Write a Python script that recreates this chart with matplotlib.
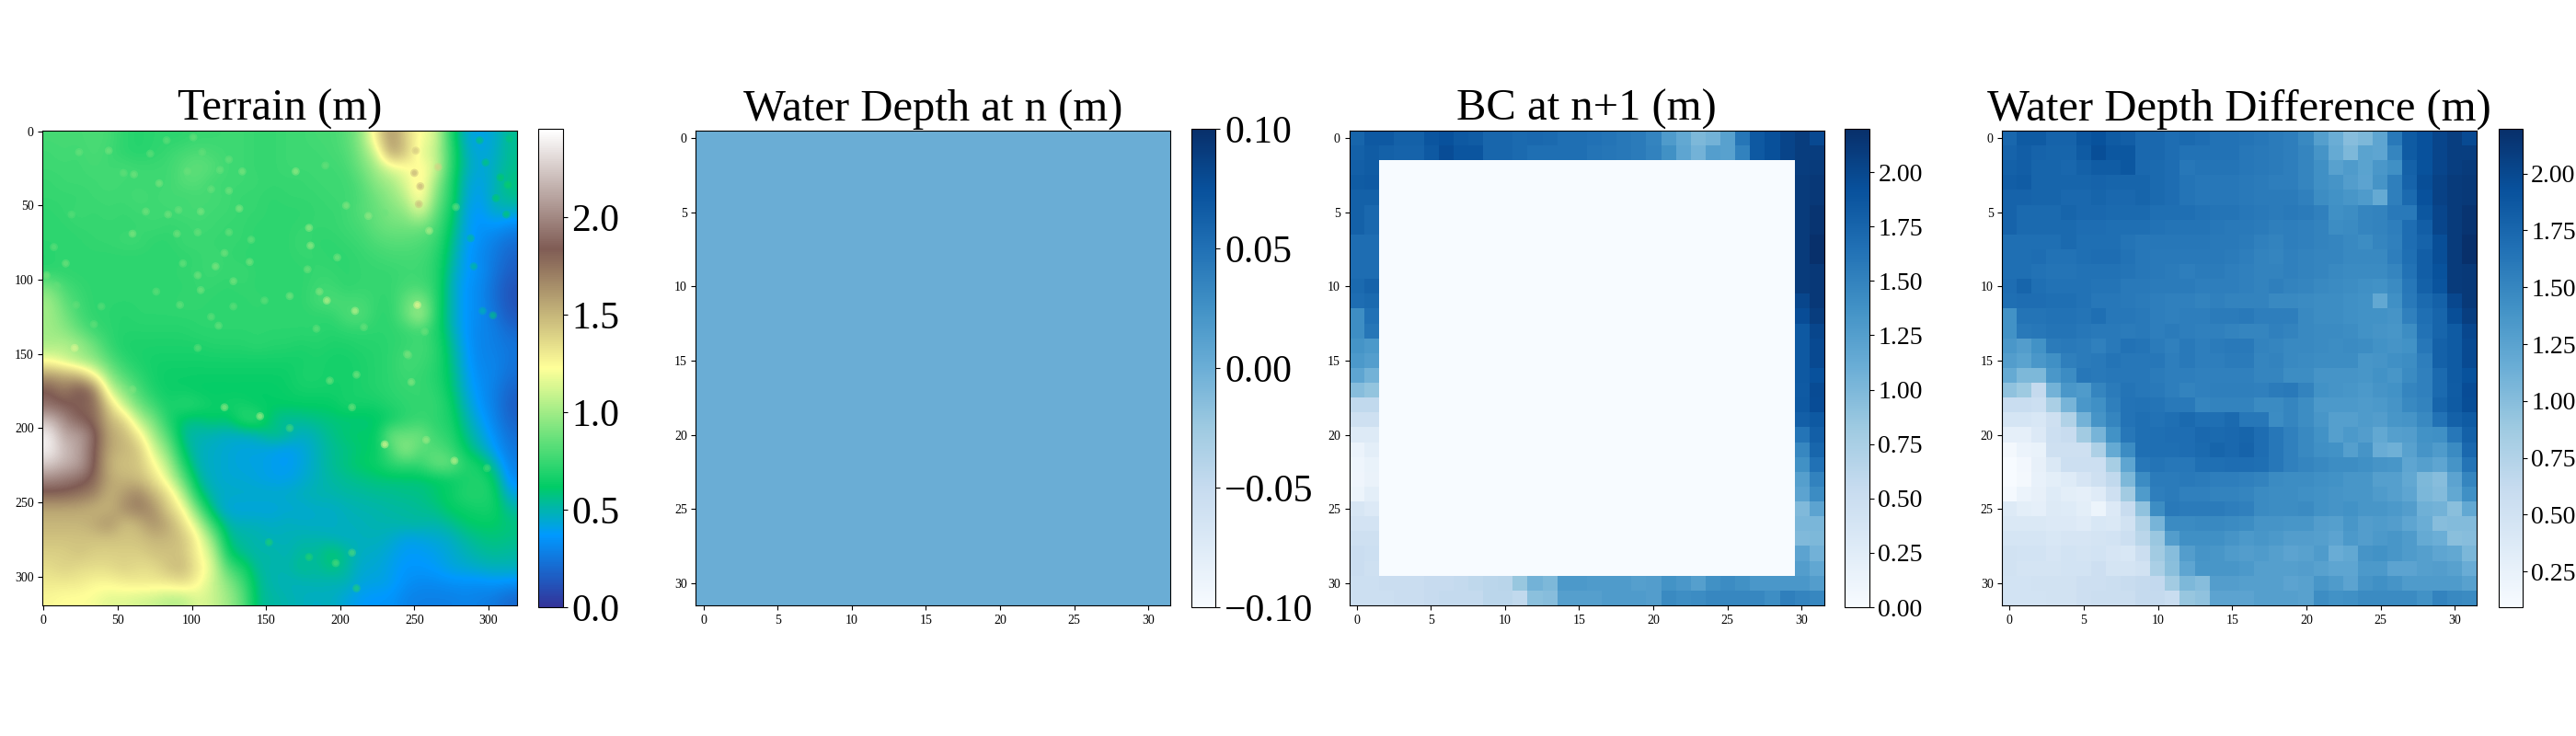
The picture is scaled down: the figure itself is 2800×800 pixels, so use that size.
import numpy as np
import matplotlib
matplotlib.use("Agg")
import matplotlib.pyplot as plt

plt.rcParams['font.family'] = ['Liberation Serif', 'DejaVu Serif']

W, H = 2800, 800

titles = ["Terrain (m)", "Water Depth at n (m)", "BC at n+1 (m)", "Water Depth Difference (m)"]

# terrain elevation on a 10 m grid
terrain = [
    [.78,.78,.78,.80,.78,.72,.70,.72,.72,.72,.75,.75,.76,.76,.74,.74,.76,.76,.78,.78,.82,.95,1.3,1.65,1.4,1.2,1.15,.70,.45,.40,.45,.55],
    [.76,.78,.76,.80,.76,.72,.70,.72,.75,.78,.80,.78,.76,.76,.74,.74,.76,.76,.76,.78,.80,.92,1.1,1.6,1.45,1.15,1.1,.75,.48,.42,.45,.55],
    [.76,.76,.76,.78,.76,.78,.76,.76,.76,.82,.85,.82,.76,.76,.74,.74,.76,.76,.76,.76,.78,.88,1.0,1.15,1.2,1.25,1.15,.72,.50,.42,.48,.55],
    [.74,.76,.76,.76,.78,.76,.76,.76,.76,.82,.82,.76,.76,.76,.75,.74,.74,.74,.76,.76,.76,.82,.95,1.0,1.15,1.3,1.0,.70,.46,.40,.48,.58],
    [.74,.74,.74,.76,.76,.76,.78,.76,.78,.76,.78,.78,.76,.74,.74,.72,.74,.74,.74,.76,.76,.80,.88,.96,1.05,1.3,.92,.70,.45,.38,.50,.55],
    [.72,.74,.76,.74,.76,.74,.76,.76,.76,.78,.78,.76,.76,.74,.74,.72,.72,.72,.74,.74,.76,.82,.85,.92,.95,1.15,.85,.66,.42,.36,.46,.45],
    [.72,.72,.74,.74,.74,.74,.74,.76,.74,.74,.76,.76,.74,.74,.72,.72,.72,.74,.74,.74,.76,.78,.85,.88,.88,.88,.80,.62,.42,.34,.36,.30],
    [.72,.72,.72,.74,.74,.76,.76,.72,.72,.76,.76,.74,.74,.74,.72,.72,.72,.76,.72,.72,.74,.76,.80,.82,.82,.80,.76,.58,.40,.34,.28,.22],
    [.70,.74,.72,.72,.72,.72,.72,.72,.72,.72,.74,.76,.74,.72,.72,.72,.72,.74,.74,.72,.72,.74,.76,.78,.78,.78,.72,.56,.38,.32,.26,.18],
    [.72,.72,.72,.72,.72,.72,.72,.72,.72,.74,.74,.76,.74,.76,.72,.72,.72,.72,.74,.74,.72,.74,.74,.74,.76,.76,.72,.52,.38,.34,.24,.16],
    [.90,.78,.74,.72,.72,.72,.72,.72,.72,.72,.74,.74,.72,.74,.72,.72,.72,.72,.76,.76,.72,.74,.74,.74,.78,.78,.72,.50,.36,.32,.22,.12],
    [1.0,.84,.76,.72,.72,.72,.72,.72,.72,.74,.74,.72,.72,.72,.74,.72,.72,.72,.78,.80,.78,.78,.74,.72,.85,.95,.72,.50,.36,.32,.22,.12],
    [1.0,.90,.78,.72,.72,.70,.72,.72,.72,.72,.72,.72,.72,.72,.72,.72,.72,.72,.72,.72,.80,.82,.72,.72,.85,1.05,.70,.50,.36,.32,.25,.14],
    [1.0,.95,.85,.76,.72,.70,.70,.70,.70,.70,.72,.72,.72,.72,.72,.72,.72,.72,.72,.70,.72,.72,.72,.72,.74,.76,.70,.52,.36,.30,.28,.20],
    [1.02,1.05,1.0,.88,.74,.68,.68,.68,.68,.68,.68,.70,.70,.70,.72,.70,.70,.68,.70,.68,.68,.70,.70,.72,.74,.78,.72,.56,.38,.30,.28,.24],
    [1.2,1.1,1.0,.95,.82,.72,.68,.66,.66,.66,.66,.66,.66,.66,.66,.66,.66,.66,.68,.66,.66,.68,.70,.72,.78,.76,.72,.58,.40,.30,.30,.24],
    [1.6,1.55,1.5,1.25,.95,.80,.72,.66,.64,.64,.64,.64,.64,.64,.64,.64,.64,.68,.68,.66,.66,.68,.70,.72,.76,.74,.70,.60,.42,.32,.30,.22],
    [1.85,1.7,1.9,1.75,1.1,.95,.78,.68,.64,.64,.62,.62,.62,.62,.62,.62,.64,.66,.66,.66,.66,.68,.70,.72,.74,.74,.72,.62,.44,.34,.28,.18],
    [1.9,1.85,1.8,1.8,1.4,1.08,.88,.76,.66,.72,.70,.64,.66,.66,.62,.62,.62,.62,.62,.62,.68,.66,.66,.70,.72,.74,.74,.66,.48,.36,.28,.16],
    [2.2,2.0,1.85,1.8,1.5,1.4,1.05,.90,.68,.58,.56,.62,.58,.72,.74,.56,.52,.54,.56,.58,.58,.58,.60,.64,.72,.74,.72,.68,.52,.40,.30,.18],
    [2.4,2.1,2.1,1.9,1.55,1.5,1.3,1.0,.80,.52,.50,.48,.46,.46,.48,.58,.54,.46,.50,.56,.60,.62,.60,.90,.85,.90,.74,.72,.56,.45,.34,.22],
    [2.4,2.2,2.1,1.85,1.55,1.5,1.45,1.12,.92,.58,.48,.46,.44,.42,.42,.40,.38,.42,.48,.54,.56,.60,.62,.78,1.0,.80,.82,.75,.62,.50,.38,.25],
    [2.25,2.15,2.1,1.85,1.5,1.45,1.45,1.25,1.05,.68,.48,.46,.44,.42,.42,.40,.38,.42,.48,.54,.58,.62,.64,.72,.74,.74,.88,.88,.70,.66,.50,.28],
    [2.0,1.95,1.9,1.8,1.55,1.5,1.48,1.35,1.15,.85,.52,.46,.44,.44,.42,.40,.40,.44,.48,.52,.54,.56,.58,.58,.58,.58,.60,.62,.66,.70,.62,.32],
    [1.8,1.8,1.75,1.7,1.5,1.6,1.7,1.5,1.35,1.05,.62,.48,.46,.46,.46,.46,.46,.48,.50,.50,.52,.52,.54,.54,.56,.56,.60,.64,.70,.70,.66,.42],
    [1.55,1.55,1.55,1.5,1.5,1.65,1.72,1.65,1.4,1.25,.85,.52,.42,.42,.42,.42,.44,.44,.46,.46,.48,.50,.50,.52,.52,.54,.56,.62,.64,.66,.66,.52],
    [1.5,1.5,1.5,1.55,1.65,1.45,1.5,1.65,1.55,1.35,1.1,.72,.50,.48,.48,.46,.48,.46,.46,.46,.48,.48,.50,.50,.52,.52,.50,.54,.60,.62,.62,.58],
    [1.45,1.45,1.45,1.45,1.45,1.45,1.45,1.5,1.5,1.45,1.25,.95,.55,.52,.50,.48,.48,.50,.50,.48,.46,.48,.48,.46,.40,.42,.44,.46,.52,.56,.58,.56],
    [1.4,1.4,1.45,1.4,1.4,1.4,1.4,1.45,1.45,1.45,1.25,1.1,.62,.54,.50,.52,.48,.54,.52,.62,.54,.46,.46,.42,.38,.38,.40,.44,.48,.52,.54,.52],
    [1.35,1.4,1.35,1.35,1.35,1.4,1.35,1.35,1.45,1.5,1.3,1.15,.80,.68,.52,.50,.50,.56,.52,.58,.52,.44,.44,.40,.36,.36,.38,.42,.44,.46,.48,.48],
    [1.3,1.3,1.3,1.25,1.25,1.28,1.3,1.3,1.3,1.35,1.25,1.1,.95,.78,.55,.50,.48,.48,.50,.48,.50,.42,.42,.40,.34,.32,.32,.34,.34,.34,.36,.34],
    [1.25,1.22,1.22,1.2,1.15,1.15,1.12,1.1,1.05,1.05,1.15,1.1,1.0,.85,.55,.52,.50,.48,.46,.48,.42,.38,.36,.36,.30,.28,.28,.28,.30,.28,.26,.20],
]

# small mounds on the terrain, too fine for the 10 m grid
mound_x = [44,24,61,78,69,84,91,106,60,90,104,125,116,122,94,104,139,128,106,92,76,15,7,22,34,149,128,118,104,113,125,134,125,119,97,101,83,72,107,132,140,113,39,9,2,19,54,
           170,190,204,219,230,179,180,198,178,166,186,191,210,252,184,216,246,257,260,278,250,254,253,266,251,
           122,146,166,208,258,230,277,299,245,248,193,211,60,21,
           208,197,179,152,211,
           294,298,308,313,305,312,288,290,303,296,314,318]
mound_y = [13,14,29,35,54,56,53,54,69,69,68,68,91,82,89,97,88,101,107,117,108,89,78,117,130,114,118,131,146,39,40,27,19,26,27,4,6,15,14,52,73,125,118,104,97,56,28,
           27,23,50,57,55,65,77,85,93,111,108,114,121,117,133,132,151,135,67,51,28,37,49,24,13,
           186,192,200,186,208,211,222,227,150,169,168,164,174,146,
           284,291,287,277,308,
           6,21,31,36,45,56,72,91,124,121,5,18]
mound_h = [.90,.88,.90,.92,.90,.90,.88,.92,.94,.90,.88,.88,.94,.90,.88,.90,.92,.92,.90,.88,.86,.90,.86,.86,.86,.86,.86,.88,.86,.88,.90,.92,.88,.88,.88,.88,.86,.86,.86,.95,.88,.86,.84,.86,.90,.84,.86,
           1.0,.88,.95,.98,.88,1.0,1.0,.92,.90,.92,.95,1.1,1.1,1.25,.88,.88,.88,.88,1.05,.88,1.55,1.55,1.5,1.4,1.45,
           1.0,1.05,.80,.90,1.0,1.2,1.1,.80,.90,.95,.90,.92,.92,1.15,
           .82,.82,.70,.68,.70,
           .60,.60,.62,.64,.62,.62,.55,.55,.58,.50,.58,.55]

# water depth difference on the 32 x 32 grid
depth_diff = [
    [1.75,1.85,1.85,1.78,1.78,1.88,1.92,1.85,1.82,1.74,1.74,1.70,1.72,1.70,1.66,1.66,1.64,1.62,1.58,1.56,1.48,1.28,1.15,1.00,1.05,1.22,1.60,1.85,1.93,2.02,2.08,1.98],
    [1.78,1.82,1.78,1.76,1.76,1.85,1.95,1.88,1.88,1.74,1.74,1.70,1.66,1.66,1.66,1.66,1.62,1.60,1.58,1.56,1.50,1.38,1.18,1.05,1.25,1.22,1.50,1.85,1.93,2.02,2.08,2.08],
    [1.80,1.82,1.76,1.76,1.75,1.80,1.84,1.84,1.88,1.74,1.72,1.70,1.62,1.64,1.64,1.64,1.62,1.60,1.58,1.56,1.50,1.42,1.26,1.32,1.25,1.35,1.42,1.80,1.92,2.02,2.08,2.10],
    [1.82,1.84,1.76,1.76,1.76,1.76,1.78,1.76,1.76,1.76,1.72,1.70,1.64,1.62,1.62,1.62,1.60,1.58,1.56,1.56,1.50,1.42,1.38,1.30,1.24,1.38,1.55,1.78,1.95,2.04,2.10,2.12],
    [1.78,1.78,1.76,1.76,1.74,1.74,1.76,1.74,1.74,1.76,1.72,1.70,1.64,1.62,1.62,1.62,1.60,1.58,1.58,1.58,1.54,1.44,1.40,1.36,1.32,1.18,1.55,1.72,1.93,2.05,2.10,2.12],
    [1.78,1.72,1.72,1.72,1.76,1.74,1.74,1.72,1.72,1.72,1.68,1.68,1.68,1.66,1.64,1.64,1.62,1.60,1.58,1.60,1.58,1.54,1.42,1.44,1.50,1.52,1.60,1.60,1.88,2.02,2.10,2.16],
    [1.78,1.72,1.72,1.72,1.72,1.70,1.70,1.68,1.68,1.68,1.66,1.64,1.64,1.64,1.62,1.60,1.60,1.58,1.55,1.56,1.54,1.52,1.44,1.46,1.50,1.52,1.56,1.70,1.82,2.02,2.10,2.16],
    [1.68,1.68,1.68,1.68,1.72,1.68,1.68,1.68,1.64,1.62,1.62,1.62,1.62,1.62,1.60,1.60,1.58,1.54,1.52,1.56,1.54,1.52,1.50,1.48,1.44,1.50,1.54,1.70,1.78,1.95,2.10,2.20],
    [1.68,1.68,1.70,1.66,1.66,1.68,1.70,1.70,1.66,1.62,1.60,1.60,1.60,1.60,1.60,1.58,1.56,1.52,1.50,1.54,1.52,1.50,1.50,1.48,1.48,1.48,1.56,1.68,1.82,1.95,2.10,2.20],
    [1.68,1.68,1.66,1.64,1.64,1.66,1.66,1.66,1.64,1.62,1.60,1.58,1.56,1.58,1.58,1.56,1.54,1.52,1.52,1.54,1.52,1.50,1.48,1.46,1.46,1.46,1.50,1.66,1.82,1.92,2.10,2.12],
    [1.70,1.76,1.68,1.66,1.66,1.66,1.64,1.64,1.60,1.60,1.58,1.58,1.58,1.56,1.56,1.56,1.54,1.52,1.55,1.52,1.50,1.48,1.46,1.44,1.42,1.40,1.46,1.62,1.80,1.90,2.10,2.12],
    [1.68,1.70,1.70,1.68,1.68,1.66,1.62,1.62,1.60,1.58,1.56,1.54,1.54,1.52,1.54,1.52,1.52,1.52,1.48,1.48,1.46,1.44,1.44,1.42,1.40,1.20,1.42,1.60,1.72,1.80,2.00,2.12],
    [1.40,1.64,1.64,1.66,1.66,1.64,1.68,1.62,1.62,1.60,1.56,1.54,1.56,1.56,1.58,1.58,1.60,1.56,1.56,1.56,1.48,1.44,1.44,1.42,1.40,1.40,1.38,1.54,1.68,1.76,1.95,2.08],
    [1.40,1.60,1.62,1.64,1.64,1.62,1.60,1.60,1.58,1.60,1.56,1.58,1.56,1.54,1.54,1.52,1.50,1.50,1.54,1.52,1.48,1.46,1.46,1.44,1.40,1.38,1.36,1.44,1.66,1.76,1.85,2.00],
    [1.35,1.30,1.40,1.58,1.60,1.58,1.54,1.60,1.66,1.64,1.58,1.54,1.60,1.56,1.58,1.60,1.60,1.52,1.50,1.48,1.48,1.46,1.44,1.46,1.44,1.40,1.38,1.40,1.62,1.80,1.85,1.98],
    [1.30,1.25,1.35,1.42,1.55,1.58,1.60,1.64,1.62,1.62,1.62,1.56,1.60,1.56,1.56,1.58,1.58,1.50,1.52,1.48,1.46,1.44,1.44,1.44,1.36,1.38,1.42,1.44,1.56,1.80,1.85,1.98],
    [1.18,1.05,1.05,1.35,1.45,1.62,1.60,1.62,1.62,1.62,1.58,1.56,1.56,1.54,1.54,1.54,1.54,1.50,1.50,1.44,1.44,1.38,1.38,1.38,1.36,1.40,1.36,1.46,1.54,1.72,1.85,1.92],
    [0.95,0.88,0.62,1.10,1.35,1.32,1.50,1.58,1.64,1.62,1.60,1.56,1.52,1.54,1.55,1.55,1.55,1.54,1.58,1.60,1.52,1.40,1.38,1.36,1.34,1.38,1.40,1.50,1.54,1.72,1.84,1.96],
    [0.58,0.58,0.55,0.80,1.08,1.35,1.42,1.55,1.65,1.66,1.64,1.60,1.60,1.50,1.52,1.52,1.52,1.46,1.46,1.50,1.44,1.34,1.34,1.34,1.32,1.34,1.38,1.48,1.52,1.76,1.85,1.95],
    [0.45,0.45,0.42,0.52,0.75,1.10,1.38,1.50,1.65,1.68,1.66,1.68,1.72,1.68,1.68,1.72,1.62,1.62,1.45,1.50,1.44,1.36,1.28,1.28,1.32,1.30,1.36,1.38,1.48,1.66,1.80,1.85],
    [0.28,0.28,0.38,0.55,0.60,0.85,1.08,1.40,1.62,1.68,1.68,1.70,1.70,1.74,1.72,1.74,1.76,1.70,1.62,1.54,1.48,1.40,1.28,1.34,1.30,1.20,1.28,1.30,1.40,1.42,1.62,1.80],
    [0.13,0.22,0.24,0.52,0.52,0.52,0.78,1.18,1.45,1.68,1.68,1.68,1.70,1.72,1.76,1.74,1.78,1.70,1.62,1.54,1.48,1.42,1.40,1.28,1.38,1.16,1.12,1.26,1.38,1.32,1.46,1.74],
    [0.10,0.15,0.26,0.40,0.55,0.55,0.55,0.82,1.22,1.62,1.64,1.62,1.62,1.68,1.68,1.70,1.70,1.68,1.62,1.54,1.50,1.48,1.44,1.44,1.42,1.38,1.36,1.22,1.28,1.22,1.38,1.64],
    [0.09,0.14,0.25,0.30,0.35,0.44,0.52,0.65,1.05,1.45,1.58,1.58,1.60,1.58,1.56,1.56,1.54,1.52,1.46,1.44,1.44,1.42,1.40,1.36,1.36,1.28,1.28,1.20,1.05,1.00,1.24,1.50],
    [0.12,0.22,0.26,0.35,0.30,0.28,0.34,0.52,0.85,1.32,1.56,1.58,1.54,1.54,1.52,1.52,1.50,1.46,1.44,1.44,1.42,1.40,1.38,1.36,1.36,1.32,1.28,1.22,1.06,1.02,1.20,1.42],
    [0.36,0.30,0.28,0.37,0.35,0.30,0.20,0.38,0.60,0.95,1.44,1.60,1.58,1.58,1.58,1.56,1.54,1.46,1.44,1.44,1.46,1.40,1.38,1.40,1.36,1.36,1.34,1.30,1.12,1.10,0.98,1.20],
    [0.40,0.40,0.40,0.38,0.38,0.34,0.42,0.40,0.50,0.75,1.08,1.46,1.46,1.48,1.48,1.46,1.44,1.38,1.38,1.36,1.36,1.30,1.28,1.36,1.30,1.32,1.30,1.22,1.15,1.00,1.02,1.02],
    [0.45,0.45,0.45,0.42,0.44,0.44,0.46,0.48,0.55,0.70,0.90,1.30,1.42,1.42,1.42,1.38,1.34,1.36,1.34,1.30,1.30,1.28,1.24,1.34,1.30,1.34,1.36,1.32,1.18,1.14,0.98,1.00],
    [0.50,0.48,0.48,0.44,0.48,0.46,0.48,0.44,0.42,0.56,0.85,1.00,1.30,1.38,1.36,1.32,1.30,1.32,1.28,1.24,1.26,1.32,1.16,1.20,1.38,1.40,1.36,1.32,1.28,1.22,1.20,1.06],
    [0.50,0.46,0.46,0.46,0.48,0.48,0.54,0.46,0.46,0.50,0.80,0.98,1.22,1.36,1.36,1.36,1.34,1.28,1.28,1.28,1.30,1.26,1.22,1.22,1.34,1.34,1.24,1.24,1.28,1.30,1.26,1.16],
    [0.48,0.48,0.50,0.50,0.50,0.54,0.54,0.56,0.60,0.62,0.64,0.85,1.05,1.00,1.30,1.30,1.28,1.28,1.28,1.24,1.26,1.36,1.32,1.24,1.38,1.42,1.38,1.32,1.32,1.32,1.32,1.26],
    [0.48,0.48,0.48,0.50,0.50,0.54,0.56,0.56,0.56,0.62,0.62,0.58,0.92,0.95,1.24,1.24,1.24,1.28,1.28,1.28,1.26,1.44,1.40,1.42,1.46,1.46,1.46,1.46,1.40,1.52,1.48,1.46],
]

terrain = np.array(terrain)
depth_diff = np.array(depth_diff)

# depth at step n is dry everywhere
depth_n = np.zeros((32, 32))

# boundary condition keeps only the outer two rings of the difference field
bc_next = depth_diff.copy()
bc_next[2:30, 2:30] = 0.0


def px_axes(fig, x0, x1, y0, y1):
    # axes from pixel edges, y counted from the top of the image
    return fig.add_axes([x0 / W, 1 - y1 / H, (x1 - x0) / W, (y1 - y0) / H])


def panel(fig, data, title, box, cbox, cmap, vmin, vmax, ticks, fmt, cbar_size, **kw):
    ax = px_axes(fig, *box)
    cax = px_axes(fig, *cbox)
    im = ax.imshow(data, cmap=cmap, vmin=vmin, vmax=vmax, **kw)
    ax.set_title(title, fontsize=35, pad=8)
    ax.tick_params(labelsize=10)
    cb = fig.colorbar(im, cax=cax)
    cb.set_ticks(ticks)
    cb.ax.set_yticklabels([(fmt % t).replace('-', '\u2212') for t in ticks])
    cb.ax.tick_params(labelsize=cbar_size)
    return ax


fig = plt.figure(figsize=(W / 100, H / 100), dpi=100)

ax = panel(fig, terrain, titles[0], (46.4, 562.5, 142, 658), (585, 611.6, 140.5, 660),
           'terrain', 0.0, 2.45, [0, 0.5, 1, 1.5, 2], '%.1f', 30,
           interpolation='bicubic', extent=(-0.5, 319.5, 319.5, -0.5))
ax.scatter(mound_x, mound_y, c=mound_h, cmap='terrain', vmin=0.0, vmax=2.45, s=40, alpha=0.4, linewidths=0)
ax.scatter(mound_x, mound_y, c=mound_h, cmap='terrain', vmin=0.0, vmax=2.45, s=14, alpha=0.4, linewidths=0)
ax.set_xlim(-0.5, 319.5)
ax.set_ylim(319.5, -0.5)
ax.set_xticks([0, 50, 100, 150, 200, 250, 300])
ax.set_yticks([0, 50, 100, 150, 200, 250, 300])

panel(fig, depth_n, titles[1], (756.2, 1272.8, 142, 658), (1295, 1321.4, 140.5, 660),
      'Blues', -0.1, 0.1, [-0.1, -0.05, 0, 0.05, 0.1], '%.2f', 30)

panel(fig, bc_next, titles[2], (1466.5, 1982.6, 142, 658), (2005.4, 2031.7, 140.5, 660),
      'Blues', 0.0, 2.197, [0, 0.25, 0.5, 0.75, 1, 1.25, 1.5, 1.75, 2], '%.2f', 20)

panel(fig, depth_diff, titles[3], (2176.3, 2692.4, 142, 658), (2715.6, 2741.5, 140.5, 660),
      'Blues', 0.093, 2.195, [0.25, 0.5, 0.75, 1, 1.25, 1.5, 1.75, 2], '%.2f', 20)

fig.savefig('out.png', dpi=100)
